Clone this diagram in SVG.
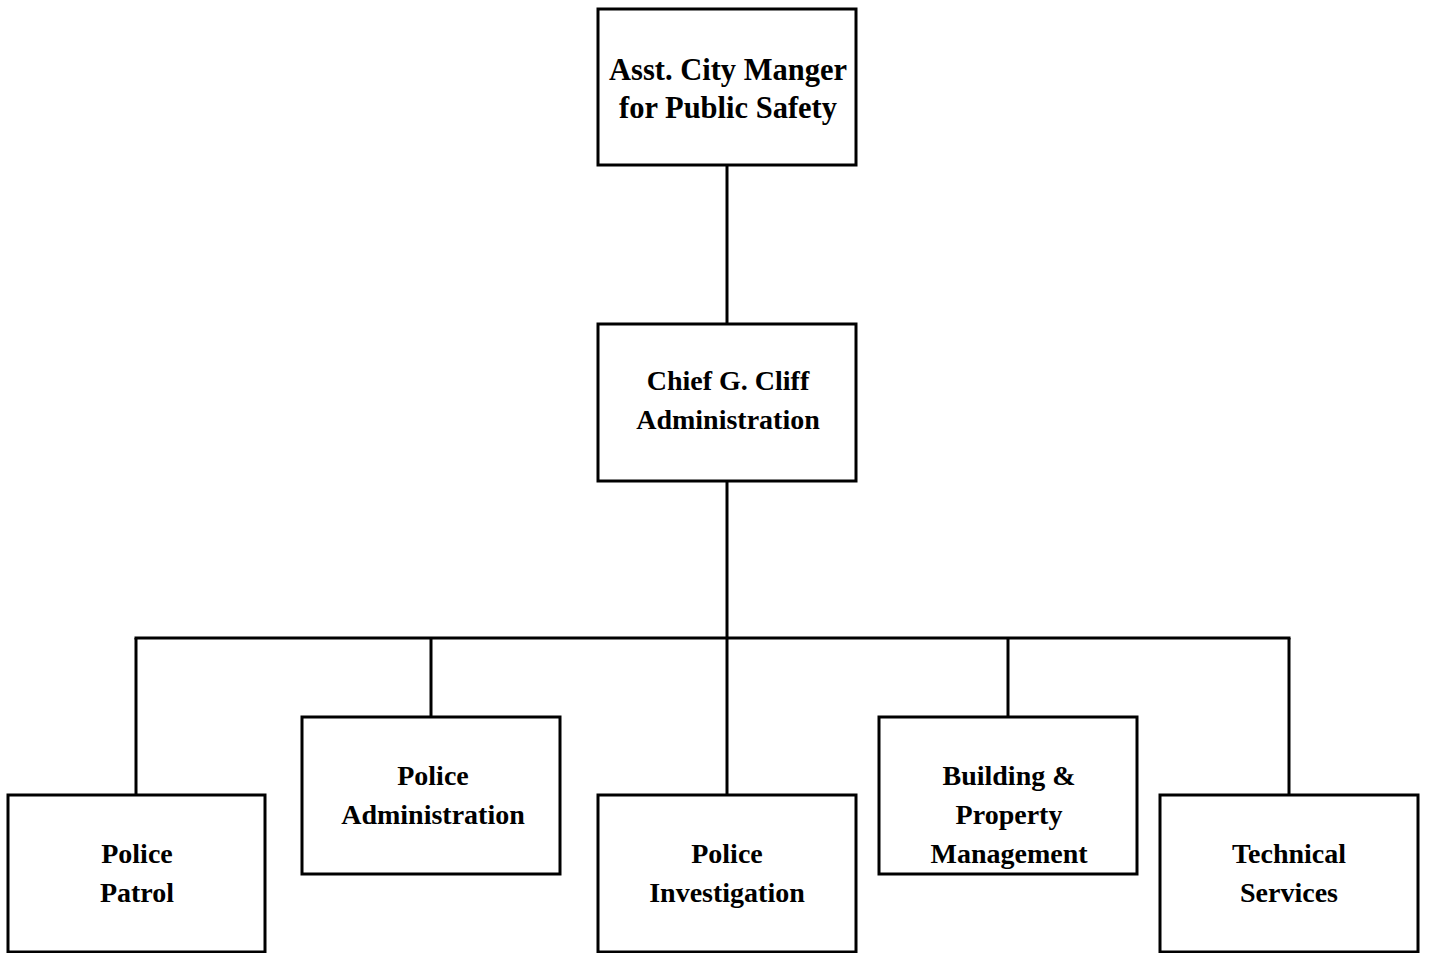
<svg xmlns="http://www.w3.org/2000/svg" width="1430" height="953" viewBox="0 0 1430 953">
  <style>
    .box { fill: #ffffff; stroke: #000000; stroke-width: 3; }
    .wire { fill: none; stroke: #000000; stroke-width: 3; }
    .label { font-family: "Liberation Serif", "Times New Roman", serif; font-weight: bold; font-size: 28px; fill: #000000; text-anchor: middle; }
    .label-lg { font-size: 30.5px; }
  </style>
  <rect width="1430" height="953" fill="#ffffff"/>

  <!-- reporting lines -->
  <g id="connectors">
    <line class="wire" x1="727" y1="165" x2="727" y2="323"/>
    <line class="wire" x1="727" y1="481" x2="727" y2="638"/>
    <line class="wire" x1="134.5" y1="638" x2="1290.5" y2="638"/>
    <line class="wire" x1="136" y1="638" x2="136" y2="795"/>
    <line class="wire" x1="431" y1="638" x2="431" y2="717"/>
    <line class="wire" x1="727" y1="638" x2="727" y2="795"/>
    <line class="wire" x1="1008" y1="638" x2="1008" y2="717"/>
    <line class="wire" x1="1289" y1="638" x2="1289" y2="795"/>
  </g>

  <g id="asst-city-manager">
    <rect class="box" x="598" y="9" width="258" height="156"/>
    <text class="label label-lg" x="728" y="80">Asst. City Manger</text>
    <text class="label label-lg" x="728" y="118">for Public Safety</text>
  </g>

  <g id="chief">
    <rect class="box" x="598" y="324" width="258" height="157"/>
    <text class="label" x="728" y="390">Chief G. Cliff</text>
    <text class="label" x="728" y="429">Administration</text>
  </g>

  <g id="police-patrol">
    <rect class="box" x="8" y="795" width="257" height="157"/>
    <text class="label" x="137" y="863">Police</text>
    <text class="label" x="137" y="902">Patrol</text>
  </g>

  <g id="police-administration">
    <rect class="box" x="302" y="717" width="258" height="157"/>
    <text class="label" x="433" y="785">Police</text>
    <text class="label" x="433" y="824">Administration</text>
  </g>

  <g id="police-investigation">
    <rect class="box" x="598" y="795" width="258" height="157"/>
    <text class="label" x="727" y="863">Police</text>
    <text class="label" x="727" y="902">Investigation</text>
  </g>

  <g id="building-property">
    <rect class="box" x="879" y="717" width="258" height="157"/>
    <text class="label" x="1009" y="785">Building &amp;</text>
    <text class="label" x="1009" y="824">Property</text>
    <text class="label" x="1009" y="863">Management</text>
  </g>

  <g id="technical-services">
    <rect class="box" x="1160" y="795" width="258" height="157"/>
    <text class="label" x="1289" y="863">Technical</text>
    <text class="label" x="1289" y="902">Services</text>
  </g>
</svg>
